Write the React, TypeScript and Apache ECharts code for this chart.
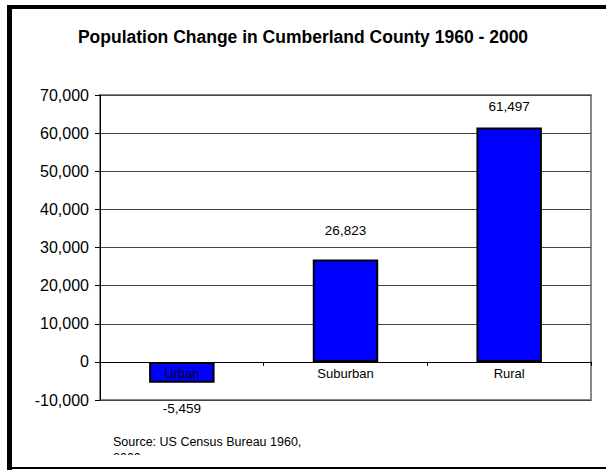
import React, { useEffect, useRef } from "react";
import * as echarts from "echarts";

const categories = ["Urban", "Suburban", "Rural"];
const values = [-5459, 26823, 61497];
const labelDistances = [19, 22, 14];
const yTicks = { min: -10000, max: 70000, interval: 10000 };
const titleText = "Population Change in Cumberland County 1960 - 2000";
const sourceLines = ["Source: US Census Bureau 1960,", "2000"];

const FONT = "'Liberation Sans', Arial, sans-serif";

export default function App() {
  const ref = useRef<HTMLDivElement>(null);
  useEffect(() => {
    document.body.style.margin = "0";
    const chart = echarts.init(ref.current!, null, { renderer: "svg" });
    const fmt = (v: number) => v.toLocaleString("en-US");
    chart.setOption({
      animation: false,
      backgroundColor: "#ffffff",
      textStyle: { fontFamily: FONT },
      title: {
        text: titleText,
        left: "center",
        top: 23,
        textStyle: { fontFamily: FONT, fontSize: 17.5, fontWeight: "bold", color: "#000" },
      },
      grid: {
        left: 100,
        right: 15,
        top: 95,
        bottom: 70,
        show: true,
        borderColor: "#888",
        borderWidth: 2,
        backgroundColor: "transparent",
      },
      xAxis: {
        type: "category",
        data: categories,
        z: 5,
        axisLine: { onZero: true, lineStyle: { color: "#000", width: 1 } },
        axisTick: { show: true, inside: false, length: 4, alignWithLabel: false, lineStyle: { color: "#000" } },
        axisLabel: { margin: -33, fontFamily: FONT, fontSize: 13, color: "#000" },
        splitLine: { show: false },
      },
      yAxis: {
        type: "value",
        min: yTicks.min,
        max: yTicks.max,
        interval: yTicks.interval,
        axisLine: { show: true, lineStyle: { color: "#000", width: 1 } },
        axisTick: { show: true, inside: false, length: 5, lineStyle: { color: "#000" } },
        axisLabel: { margin: 11, fontFamily: FONT, fontSize: 16, color: "#000", formatter: fmt },
        splitLine: { show: true, lineStyle: { color: "#444", width: 1 } },
      },
      series: [
        {
          type: "bar",
          barCategoryGap: "60%",
          data: values.map((v, i) => ({
            value: v,
            label: {
              show: true,
              position: v < 0 ? "bottom" : "top",
              distance: labelDistances[i],
            },
          })),
          itemStyle: { color: "#0000ff", borderColor: "#000", borderWidth: 2 },
          label: {
            show: true,
            fontFamily: FONT,
            fontSize: 13.5,
            color: "#000",
            formatter: (p: any) => fmt(p.value),
          },
        },
      ],
      graphic: [
        { type: "rect", shape: { x: 7, y: 5, width: 606, height: 4 }, style: { fill: "#000" }, z: 10 },
        { type: "rect", shape: { x: 7, y: 5, width: 5, height: 465 }, style: { fill: "#000" }, z: 10 },
        { type: "rect", shape: { x: 7, y: 467, width: 606, height: 2 }, style: { fill: "#000" }, z: 10 },
        {
          type: "text",
          x: 113,
          y: 435,
          style: { text: sourceLines[0], fontFamily: FONT, fontSize: 12.5, fill: "#000" },
          z: 10,
        },
        {
          type: "text",
          x: 113,
          y: 451,
          style: { text: sourceLines[1], fontFamily: FONT, fontSize: 12.5, fill: "#000" },
          z: 10,
        },
        { type: "rect", shape: { x: 100, y: 455, width: 220, height: 12 }, style: { fill: "#fff" }, z: 11 },
      ],
    });
    return () => chart.dispose();
  }, []);
  return <div ref={ref} style={{ width: 606, height: 470 }} />;
}
